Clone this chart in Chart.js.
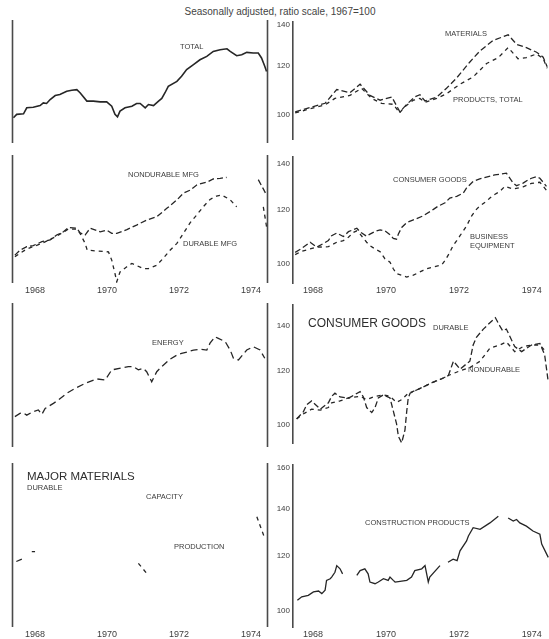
<!DOCTYPE html>
<html>
<head>
<meta charset="utf-8">
<title>Industrial production, 1968-1974</title>
<script src="https://cdn.jsdelivr.net/npm/chart.js@4.4.1/dist/chart.umd.min.js"></script>
<style>
    html, body { margin: 0; padding: 0; background: #fff; }
    #sheet { position: relative; width: 549px; height: 639px; overflow: hidden; background: #fff; }
    #sheet canvas { position: absolute; }
    #headline {
        position: absolute; top: 6px; left: 0; width: 560px; text-align: center;
        font: 10px 'Liberation Sans', Arial, sans-serif; color: #444;
    }
</style>
</head>
<body>
<div id="sheet">
    <div id="headline">Seasonally adjusted, ratio scale, 1967=100</div>
    <canvas id="p1" width="272" height="133" style="left:0;top:14px"></canvas>
    <canvas id="p2" width="281" height="133" style="left:268px;top:14px"></canvas>
    <canvas id="p3" width="272" height="148" style="left:0;top:149px"></canvas>
    <canvas id="p4" width="281" height="148" style="left:268px;top:149px"></canvas>
    <canvas id="p5" width="272" height="154" style="left:0;top:297px"></canvas>
    <canvas id="p6" width="281" height="154" style="left:268px;top:297px"></canvas>
    <canvas id="p7" width="272" height="182" style="left:0;top:457px"></canvas>
    <canvas id="p8" width="281" height="182" style="left:268px;top:457px"></canvas>
</div>
<script>
// tick labels
const yearTicks = [1968.5, 1970.5, 1972.5, 1974.5];
const yearLabels = ['1968', '1970', '1972', '1974'];
const ticksRow1 = [100, 120, 140];
const ticksRow2 = [100, 120, 140];
const ticksRow3 = [100, 120, 140];
const ticksRow4 = [100, 120, 140, 160];

// series: [year, index]  (null = gap in the printed line)
const total = [[1967.90,99.9],[1967.99,101.1],[1968.18,101.3],[1968.27,103.5],[1968.45,103.7],[1968.64,104.3],[1968.73,105.3],[1968.82,105.1],[1968.92,106.6],[1969.06,108.1],[1969.19,108.5],[1969.38,109.8],[1969.52,110.2],[1969.66,110.4],[1969.75,109.2],[1969.94,106.0],[1970.12,106.0],[1970.31,105.7],[1970.49,105.7],[1970.63,104.1],[1970.72,101.1],[1970.79,100.2],[1970.86,102.3],[1971.00,103.5],[1971.19,104.1],[1971.32,105.1],[1971.42,105.1],[1971.56,103.5],[1971.65,104.7],[1971.79,104.3],[1971.93,106.0],[1972.02,107.0],[1972.11,109.2],[1972.20,111.7],[1972.44,113.7],[1972.57,115.8],[1972.71,118.6],[1972.90,120.7],[1973.08,122.8],[1973.27,124.3],[1973.45,126.5],[1973.64,127.3],[1973.83,127.7],[1973.92,126.5],[1974.10,124.6],[1974.24,125.0],[1974.38,126.1],[1974.56,125.8],[1974.70,125.8],[1974.79,123.6],[1974.88,120.0],[1974.93,117.8]];

const materials = [[1968.01,101.1],[1968.42,102.8],[1968.83,104.4],[1969.15,109.9],[1969.51,108.6],[1969.79,112.1],[1970.06,107.5],[1970.34,105.6],[1970.66,106.9],[1970.88,101.1],[1971.07,104.0],[1971.29,106.9],[1971.43,107.8],[1971.57,105.3],[1971.89,106.8],[1972.16,110.4],[1972.44,114.8],[1972.80,121.8],[1973.08,127.0],[1973.44,132.0],[1973.85,134.8],[1974.08,130.1],[1974.35,128.5],[1974.63,126.3],[1974.81,124.0],[1974.92,119.7]];
const productsTotal = [[1968.01,100.7],[1968.42,102.3],[1968.83,103.8],[1969.10,106.3],[1969.51,107.5],[1969.83,110.4],[1970.11,106.3],[1970.38,104.4],[1970.70,104.0],[1970.87,100.7],[1971.02,103.1],[1971.25,105.6],[1971.43,106.3],[1971.57,104.8],[1971.89,106.3],[1972.16,108.2],[1972.53,112.1],[1972.89,115.2],[1973.26,121.1],[1973.58,123.8],[1973.85,128.5],[1974.12,123.3],[1974.35,123.8],[1974.63,125.5],[1974.81,123.3],[1974.92,119.0]];

const nondurableMfg = [[1967.94,102.7],[1968.08,104.4],[1968.27,105.6],[1968.45,106.0],[1968.69,107.4],[1968.92,108.0],[1969.10,109.8],[1969.29,111.0],[1969.43,112.6],[1969.66,112.3],[1969.75,110.6],[1969.89,109.8],[1970.03,112.3],[1970.31,111.0],[1970.49,111.6],[1970.63,110.4],[1970.77,110.4],[1971.05,111.8],[1971.32,113.5],[1971.60,115.4],[1971.88,116.7],[1972.16,120.0],[1972.44,123.4],[1972.62,126.2],[1972.81,127.5],[1972.99,129.7],[1973.31,131.2],[1973.45,132.3],[1973.64,132.6],[1973.82,133.0],[1974.20,null],[1974.70,132.0],[1974.84,128.0],[1974.93,125.4]];
const durableMfg = [[1967.94,102.2],[1968.27,104.8],[1968.69,106.8],[1969.10,109.4],[1969.43,112.0],[1969.66,112.0],[1969.75,110.4],[1969.89,106.8],[1969.95,104.4],[1970.54,103.8],[1970.63,101.0],[1970.72,96.6],[1970.77,94.0],[1970.86,97.1],[1971.05,98.8],[1971.19,99.9],[1971.51,98.2],[1971.65,98.2],[1971.88,99.3],[1972.06,101.6],[1972.25,104.4],[1972.44,106.8],[1972.62,110.4],[1972.81,114.4],[1972.99,117.4],[1973.17,120.6],[1973.36,123.6],[1973.54,125.0],[1973.68,125.4],[1973.91,123.6],[1974.10,120.6],[1974.40,null],[1974.84,120.6],[1974.93,112.9]];

const consumerGoods = [[1968.01,103.8],[1968.19,105.2],[1968.42,107.4],[1968.60,105.6],[1968.92,108.0],[1969.01,109.8],[1969.15,110.8],[1969.33,109.5],[1969.47,111.3],[1969.70,112.6],[1969.79,111.2],[1969.97,109.6],[1970.06,110.4],[1970.20,111.4],[1970.34,112.0],[1970.47,111.6],[1970.61,110.2],[1970.70,108.8],[1970.79,108.5],[1970.84,110.4],[1970.93,112.9],[1971.07,114.8],[1971.25,115.8],[1971.52,117.4],[1971.80,120.0],[1971.93,121.3],[1972.12,122.7],[1972.25,124.7],[1972.44,125.4],[1972.62,126.8],[1972.71,129.0],[1972.89,131.9],[1973.07,133.0],[1973.48,134.8],[1973.62,135.1],[1973.80,135.6],[1973.99,131.1],[1974.08,130.0],[1974.26,131.1],[1974.40,132.6],[1974.49,133.3],[1974.63,134.0],[1974.72,133.3],[1974.90,129.7]];
const businessEquipment = [[1968.01,103.0],[1968.19,104.2],[1968.42,105.0],[1968.60,105.6],[1968.92,105.8],[1969.15,107.4],[1969.33,108.0],[1969.47,109.2],[1969.60,111.0],[1969.70,111.6],[1969.79,110.4],[1969.97,107.4],[1970.06,106.2],[1970.20,105.0],[1970.34,104.0],[1970.47,101.6],[1970.61,100.4],[1970.70,98.2],[1970.79,96.6],[1970.93,96.1],[1971.07,95.5],[1971.25,96.1],[1971.52,97.7],[1971.61,98.2],[1971.80,98.8],[1972.03,99.5],[1972.12,101.0],[1972.25,103.8],[1972.34,106.2],[1972.44,108.0],[1972.53,109.8],[1972.62,111.6],[1972.71,113.5],[1972.85,117.4],[1972.98,120.0],[1973.07,121.3],[1973.26,123.4],[1973.35,124.7],[1973.48,126.2],[1973.62,127.5],[1973.76,129.7],[1973.99,128.5],[1974.26,129.5],[1974.49,131.0],[1974.72,131.5],[1974.90,128.0]];

const energy = [[1967.94,103.8],[1968.08,104.9],[1968.17,105.1],[1968.27,104.3],[1968.45,105.5],[1968.59,106.1],[1968.69,104.6],[1968.78,106.6],[1969.01,108.4],[1969.15,109.6],[1969.38,112.0],[1969.61,113.8],[1969.89,115.7],[1970.21,117.4],[1970.45,117.0],[1970.63,120.9],[1971.09,122.2],[1971.23,122.2],[1971.37,120.9],[1971.51,121.5],[1971.60,120.2],[1971.74,116.3],[1971.88,120.2],[1972.02,122.2],[1972.25,125.2],[1972.44,126.9],[1972.57,127.6],[1972.75,128.3],[1972.90,129.0],[1973.08,129.3],[1973.27,129.0],[1973.36,131.9],[1973.50,134.7],[1973.59,134.0],[1973.78,132.6],[1973.92,129.0],[1974.01,125.6],[1974.15,124.9],[1974.38,129.0],[1974.56,130.4],[1974.75,129.0],[1974.88,125.6]];

const consumerDurable = [[1968.05,102.1],[1968.23,104.5],[1968.33,107.2],[1968.46,108.5],[1968.70,105.5],[1968.92,107.8],[1969.01,110.2],[1969.10,111.4],[1969.24,110.0],[1969.47,109.6],[1969.56,110.2],[1969.79,112.0],[1969.88,110.0],[1969.97,106.1],[1970.11,104.3],[1970.20,106.1],[1970.29,109.6],[1970.43,110.8],[1970.61,109.6],[1970.70,104.9],[1970.79,100.4],[1970.84,96.2],[1970.93,94.1],[1971.02,98.3],[1971.07,104.9],[1971.11,109.6],[1971.16,111.4],[1971.34,112.6],[1971.61,114.4],[1971.80,115.7],[1972.03,117.0],[1972.21,118.3],[1972.35,124.2],[1972.53,120.9],[1972.80,124.2],[1972.89,131.2],[1972.98,134.7],[1973.17,138.5],[1973.35,141.5],[1973.50,143.9],[1973.62,140.0],[1973.70,137.7],[1973.80,138.5],[1974.03,130.5],[1974.22,128.3],[1974.49,131.2],[1974.72,131.9],[1974.85,127.0],[1974.95,115.7]];
const consumerNondurable = [[1968.05,102.1],[1968.23,103.8],[1968.46,105.5],[1968.70,105.2],[1968.92,106.1],[1969.01,107.8],[1969.24,108.5],[1969.47,109.6],[1969.79,110.2],[1969.97,109.0],[1970.20,110.2],[1970.43,110.8],[1970.61,110.2],[1970.79,108.0],[1970.93,109.0],[1971.11,111.4],[1971.34,112.6],[1971.61,114.4],[1971.80,115.7],[1972.03,117.0],[1972.21,118.3],[1972.53,120.2],[1972.80,121.5],[1973.08,124.2],[1973.35,129.8],[1973.62,131.2],[1973.80,132.6],[1974.03,128.3],[1974.26,130.5],[1974.49,131.2],[1974.72,131.2],[1974.90,128.0]];

// major materials, durable: only fragments survive in the print
const capacity = [[1967.98,117.4],[1968.18,118.6],[1968.30,null],[1968.41,121.2],[1968.50,121.2]];
const production = [[1971.37,116.7],[1971.60,113.0],[1972.50,null],[1974.66,135.8],[1974.88,126.6]];

const construction = [[1968.07,103.6],[1968.19,104.8],[1968.37,105.3],[1968.51,106.5],[1968.65,106.8],[1968.74,105.9],[1968.83,107.1],[1968.87,110.6],[1968.97,111.2],[1969.01,111.8],[1969.10,113.6],[1969.15,116.1],[1969.24,114.9],[1969.31,113.0],[1969.50,null],[1969.70,112.4],[1969.79,114.2],[1969.92,114.9],[1970.01,113.0],[1970.06,110.0],[1970.20,109.4],[1970.29,110.0],[1970.43,111.2],[1970.56,110.6],[1970.61,111.8],[1970.70,110.6],[1970.75,110.0],[1971.07,110.6],[1971.20,111.8],[1971.29,114.2],[1971.48,114.9],[1971.57,116.1],[1971.66,110.0],[1971.70,111.8],[1971.98,116.1],[1972.10,null],[1972.20,117.4],[1972.34,118.6],[1972.45,118.0],[1972.53,121.9],[1972.71,125.9],[1972.76,128.0],[1972.89,131.5],[1973.08,130.8],[1973.35,133.6],[1973.58,136.6],[1973.72,null],[1973.85,135.8],[1973.99,134.4],[1974.08,135.1],[1974.17,133.6],[1974.35,132.2],[1974.53,130.1],[1974.72,128.7],[1974.77,124.6],[1974.95,119.3]];

const INK = '#262626';
const AXIS = '#4a4a4a';
const FACE = "'Liberation Sans', Arial, sans-serif";
const DASH = [6, 3];

// frame lines + printed captions
const panelDecor = {
    id: 'panelDecor',
    afterDraw(chart, args, opts) {
        const { ctx, chartArea: a } = chart;
        ctx.save();
        ctx.strokeStyle = AXIS;
        ctx.lineWidth = 1.6;
        (opts.edges || []).forEach(side => {
            const x = side === 'left' ? a.left + 0.5 : a.right - 0.5;
            ctx.beginPath();
            ctx.moveTo(x, a.top);
            ctx.lineTo(x, a.bottom);
            ctx.stroke();
        });
        ctx.textBaseline = 'middle';
        (opts.notes || []).forEach(n => {
            ctx.font = `${n.size || 7.5}px ${FACE}`;
            ctx.fillStyle = n.color || '#3c3c3c';
            ctx.fillText(n.text, a.left + n.dx, a.top + n.dy);
        });
        ctx.restore();
    }
};

const columns = {
    left: { min: 1967.86, max: 1974.97 },
    right: { min: 1967.95, max: 1974.97 }
};
const rows = {
    1: { min: 91.3, max: 141.5, ticks: ticksRow1, years: 0 },
    2: { min: 93.6, max: 143.3, ticks: ticksRow2, years: 14 },
    3: { min: 94.0, max: 150.4, ticks: ticksRow3, years: 0 },
    4: { min: 94.9, max: 161.7, ticks: ticksRow4, years: 12 }
};

function buildPanel(canvasId, side, rowNo, series, notes) {
    const col = columns[side];
    const row = rows[rowNo];
    const isRight = side === 'right';

    return new Chart(document.getElementById(canvasId), {
        type: 'line',
        data: {
            datasets: series.map(s => ({
                label: s.name,
                data: s.data.map(([x, y]) => ({ x, y })),
                borderColor: INK,
                borderWidth: s.width || 1.3,
                borderDash: s.dash || [],
                pointRadius: 0,
                tension: 0,
                fill: false,
                spanGaps: false
            }))
        },
        options: {
            responsive: false,
            animation: false,
            events: [],
            layout: {
                padding: { left: isRight ? 0 : 12, right: isRight ? 0 : 4, top: 6, bottom: row.years ? 0 : 4 }
            },
            plugins: {
                legend: { display: false },
                tooltip: { enabled: false },
                panelDecor: { edges: isRight ? [] : ['left', 'right'], notes }
            },
            scales: {
                x: {
                    type: 'linear',
                    min: col.min,
                    max: col.max,
                    display: !!row.years,
                    grid: { display: false, drawTicks: false },
                    border: { display: false },
                    afterBuildTicks: scale => { scale.ticks = yearTicks.map(v => ({ value: v })); },
                    afterFit: scale => { if (row.years) scale.height = row.years; },
                    ticks: {
                        padding: 2,
                        autoSkip: false,
                        maxRotation: 0,
                        color: '#3c3c3c',
                        font: { family: FACE, size: 9 },
                        callback: (value, index) => yearLabels[index]
                    }
                },
                y: {
                    type: 'logarithmic',
                    min: row.min,
                    max: row.max,
                    display: isRight,
                    position: 'left',
                    grid: { display: false, drawTicks: false },
                    border: { display: true, color: AXIS, width: 1.6 },
                    afterBuildTicks: scale => { scale.ticks = row.ticks.map(v => ({ value: v })); },
                    afterFit: scale => { scale.width = isRight ? 25 : 0; },
                    ticks: {
                        padding: 3,
                        autoSkip: false,
                        color: '#3c3c3c',
                        font: { family: FACE, size: 8 },
                        callback: value => String(value)
                    }
                }
            }
        },
        plugins: [panelDecor]
    });
}

buildPanel('p1', 'left', 1,
    [{ name: 'Total', data: total, width: 1.6 }],
    [{ text: 'TOTAL', dx: 168, dy: 27 }]);

buildPanel('p2', 'right', 1,
    [{ name: 'Materials', data: materials, dash: DASH },
     { name: 'Products, total', data: productsTotal, dash: [4, 4] }],
    [{ text: 'MATERIALS', dx: 152, dy: 12 },
     { text: 'PRODUCTS, TOTAL', dx: 160, dy: 78 }]);

buildPanel('p3', 'left', 2,
    [{ name: 'Nondurable mfg', data: nondurableMfg, dash: DASH },
     { name: 'Durable mfg', data: durableMfg, dash: [4, 4] }],
    [{ text: 'NONDURABLE MFG', dx: 116, dy: 20 },
     { text: 'DURABLE MFG', dx: 171, dy: 89 }]);

buildPanel('p4', 'right', 2,
    [{ name: 'Consumer goods', data: consumerGoods, dash: DASH },
     { name: 'Business equipment', data: businessEquipment, dash: [4, 4] }],
    [{ text: 'CONSUMER GOODS', dx: 100, dy: 23 },
     { text: 'BUSINESS', dx: 177, dy: 80 },
     { text: 'EQUIPMENT', dx: 177, dy: 89 }]);

buildPanel('p5', 'left', 3,
    [{ name: 'Energy', data: energy, dash: [7, 4] }],
    [{ text: 'ENERGY', dx: 140, dy: 40 }]);

buildPanel('p6', 'right', 3,
    [{ name: 'Durable', data: consumerDurable, dash: DASH },
     { name: 'Nondurable', data: consumerNondurable, dash: [4, 4] }],
    [{ text: 'CONSUMER GOODS', dx: 15, dy: 19, size: 12, color: '#2e2e2e' },
     { text: 'DURABLE', dx: 140, dy: 23 },
     { text: 'NONDURABLE', dx: 175, dy: 65 }]);

buildPanel('p7', 'left', 4,
    [{ name: 'Capacity', data: capacity, dash: DASH },
     { name: 'Production', data: production, dash: [4, 4] }],
    [{ text: 'MAJOR MATERIALS', dx: 15, dy: 14, size: 11.5, color: '#2e2e2e' },
     { text: 'DURABLE', dx: 15, dy: 25 },
     { text: 'CAPACITY', dx: 134, dy: 34 },
     { text: 'PRODUCTION', dx: 162, dy: 84 }]);

buildPanel('p8', 'right', 4,
    [{ name: 'Construction products', data: construction }],
    [{ text: 'CONSTRUCTION PRODUCTS', dx: 72, dy: 58 }]);
</script>
</body>
</html>
